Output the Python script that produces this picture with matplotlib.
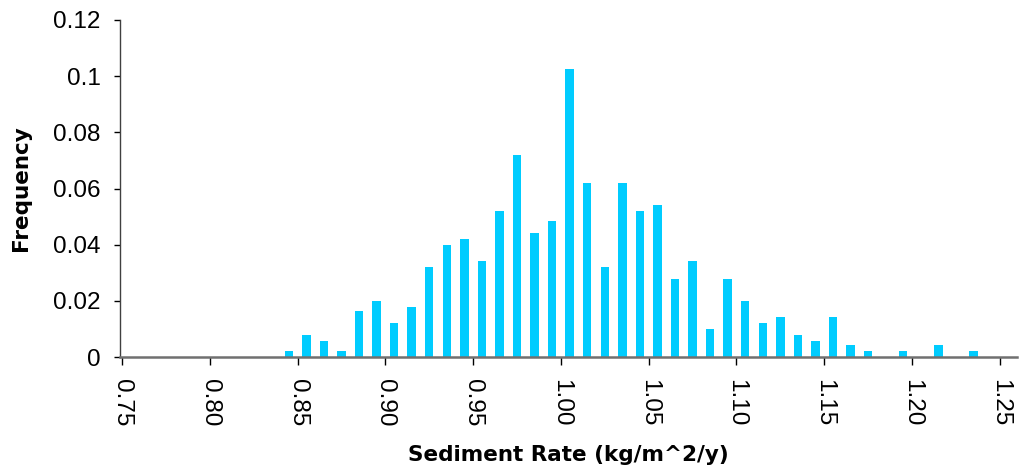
import numpy as np
import matplotlib
matplotlib.use("Agg")
import matplotlib.pyplot as plt

# bin centres (kg/m^2/y) and relative frequency
bin_centres = [0.755, 0.765, 0.775, 0.785, 0.795, 0.805, 0.815, 0.825, 0.835,
               0.845, 0.855, 0.865, 0.875, 0.885, 0.895, 0.905, 0.915, 0.925,
               0.935, 0.945, 0.955, 0.965, 0.975, 0.985, 0.995, 1.005, 1.015,
               1.025, 1.035, 1.045, 1.055, 1.065, 1.075, 1.085, 1.095, 1.105,
               1.115, 1.125, 1.135, 1.145, 1.155, 1.165, 1.175, 1.185, 1.195,
               1.205, 1.215, 1.225, 1.235, 1.245]
frequency = [0, 0, 0, 0, 0, 0, 0, 0, 0,
             0.0023, 0.0080, 0.0058, 0.0023, 0.0165, 0.0200, 0.0122, 0.0179,
             0.0322, 0.0400, 0.0421, 0.0343, 0.0521, 0.0720, 0.0443, 0.0485,
             0.1026, 0.0620, 0.0322, 0.0620, 0.0521, 0.0542, 0.0279, 0.0343,
             0.0101, 0.0279, 0.0200, 0.0122, 0.0144, 0.0079, 0.0058, 0.0144,
             0.0044, 0.0023, 0, 0.0023, 0, 0.0044, 0, 0.0023, 0]

x_ticks = [0.75, 0.80, 0.85, 0.90, 0.95, 1.00, 1.05, 1.10, 1.15, 1.20, 1.25]
x_labels = ["0.75", "0.80", "0.85", "0.90", "0.95", "1.00", "1.05", "1.10",
            "1.15", "1.20", "1.25"]
y_ticks = [0, 0.02, 0.04, 0.06, 0.08, 0.10, 0.12]
y_labels = ["0", "0.02", "0.04", "0.06", "0.08", "0.1", "0.12"]

plt.rcParams['font.family'] = ['Liberation Sans', 'DejaVu Sans']

fig = plt.figure(figsize=(10.26, 4.70), dpi=100)
ax = fig.add_axes([0.117, 0.240, 0.874, 0.7175])

ax.bar(bin_centres, frequency, width=0.0048, color='#00CCFF', zorder=2)

ax.set_xlim(0.7489, 1.2597)
ax.set_ylim(0, 0.12)
ax.set_xticks(x_ticks)
ax.set_xticklabels(x_labels, rotation=-90, fontsize=17.5)
ax.set_yticks(y_ticks)
ax.set_yticklabels(y_labels, fontsize=17.5)

ax.tick_params(axis='x', direction='out', length=6, width=1, pad=10, colors='black')
ax.tick_params(axis='y', direction='out', length=4, width=1, pad=10, colors='black')

for side in ['top', 'right']:
    ax.spines[side].set_visible(False)
ax.spines['left'].set_color('#404040')
ax.spines['left'].set_linewidth(1)
ax.spines['bottom'].set_color('#707070')
ax.spines['bottom'].set_linewidth(1.8)

ax.set_xlabel("Sediment Rate (kg/m^2/y)", fontsize=15.5, fontweight='bold',
              family='DejaVu Sans', labelpad=13)
ax.set_ylabel("Frequency", fontsize=15.5, fontweight='bold',
              family='DejaVu Sans', labelpad=16)

fig.savefig("out.png", dpi=100)
